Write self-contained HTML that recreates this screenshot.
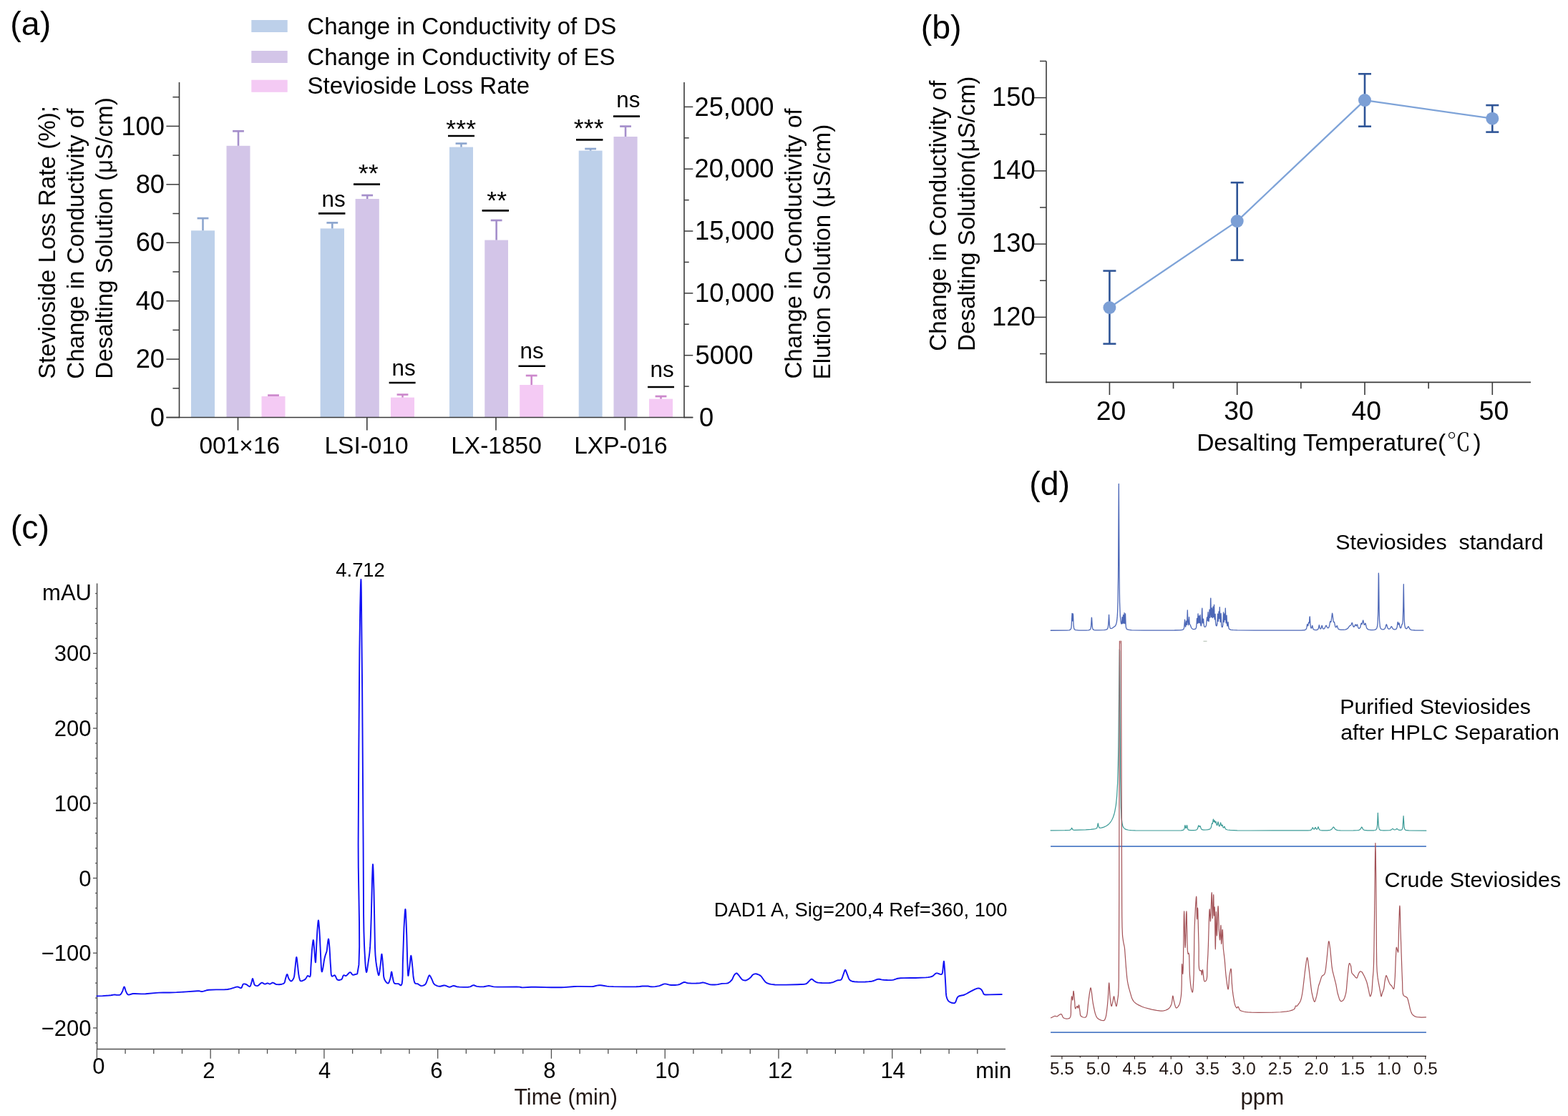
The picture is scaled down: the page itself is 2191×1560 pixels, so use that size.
<!DOCTYPE html>
<html><head><meta charset="utf-8"><title>Figure</title>
<style>
html,body{margin:0;padding:0;background:#fff;}
body{width:2191px;height:1560px;overflow:hidden;}
svg{display:block;}
text{font-family:'Liberation Sans', Arial, sans-serif;}
</style></head>
<body>
<svg width="2191" height="1560" viewBox="0 0 2191 1560">
<rect width="2191" height="1560" fill="#fff"/>
<text x="14.3" y="49.4" font-size="46.5" fill="#000">(a)</text>
<rect x="351.3" y="28" width="50.4" height="17" fill="#bdd0ea"/>
<rect x="351.3" y="71" width="50.4" height="17" fill="#d3c5e8"/>
<rect x="351.3" y="111.7" width="50.4" height="17.1" fill="#f4caf4"/>
<text x="429.31" y="47.8" font-size="33.1" fill="#000">Change in Conductivity of DS</text>
<text x="429.31" y="90.5" font-size="33.1" fill="#000">Change in Conductivity of ES</text>
<text x="429.48" y="130.9" font-size="33.1" fill="#000">Stevioside Loss Rate</text>
<rect x="267" y="322.3" width="33" height="261.2" fill="#bdd0ea"/>
<rect x="316.5" y="203.8" width="33" height="379.7" fill="#d3c5e8"/>
<rect x="365.5" y="554" width="33" height="29.5" fill="#f4caf4"/>
<rect x="447.6" y="319.4" width="33.4" height="264.1" fill="#bdd0ea"/>
<rect x="496.6" y="278" width="33.2" height="305.5" fill="#d3c5e8"/>
<rect x="546" y="555.6" width="33" height="27.9" fill="#f4caf4"/>
<rect x="628" y="205.6" width="33" height="377.9" fill="#bdd0ea"/>
<rect x="677.3" y="335.6" width="32.7" height="247.9" fill="#d3c5e8"/>
<rect x="726.2" y="538" width="33" height="45.5" fill="#f4caf4"/>
<rect x="808.7" y="210.6" width="32.9" height="372.9" fill="#bdd0ea"/>
<rect x="857.5" y="191" width="33.1" height="392.5" fill="#d3c5e8"/>
<rect x="907" y="557.6" width="33" height="25.9" fill="#f4caf4"/>
<line x1="283.5" y1="322.3" x2="283.5" y2="305.1" stroke="#8da6cf" stroke-width="2.6"/>
<line x1="275.6" y1="305.1" x2="291.4" y2="305.1" stroke="#8da6cf" stroke-width="2.7"/>
<line x1="333" y1="203.8" x2="333" y2="183.3" stroke="#a58fcb" stroke-width="2.6"/>
<line x1="325.1" y1="183.3" x2="340.9" y2="183.3" stroke="#a58fcb" stroke-width="2.7"/>
<line x1="374.1" y1="552.6" x2="389.9" y2="552.6" stroke="#cc88cc" stroke-width="2.7"/>
<line x1="464.3" y1="319.4" x2="464.3" y2="311.4" stroke="#8da6cf" stroke-width="2.6"/>
<line x1="456.4" y1="311.4" x2="472.2" y2="311.4" stroke="#8da6cf" stroke-width="2.7"/>
<line x1="513.2" y1="278" x2="513.2" y2="273" stroke="#a58fcb" stroke-width="2.6"/>
<line x1="505.3" y1="273" x2="521.1" y2="273" stroke="#a58fcb" stroke-width="2.7"/>
<line x1="562.5" y1="555.6" x2="562.5" y2="551.6" stroke="#cc88cc" stroke-width="2.6"/>
<line x1="554.6" y1="551.6" x2="570.4" y2="551.6" stroke="#cc88cc" stroke-width="2.7"/>
<line x1="644.5" y1="205.6" x2="644.5" y2="200.6" stroke="#8da6cf" stroke-width="2.6"/>
<line x1="636.6" y1="200.6" x2="652.4" y2="200.6" stroke="#8da6cf" stroke-width="2.7"/>
<line x1="693.65" y1="335.6" x2="693.65" y2="308" stroke="#a58fcb" stroke-width="2.6"/>
<line x1="685.75" y1="308" x2="701.55" y2="308" stroke="#a58fcb" stroke-width="2.7"/>
<line x1="742.7" y1="538" x2="742.7" y2="525" stroke="#cc88cc" stroke-width="2.6"/>
<line x1="734.8" y1="525" x2="750.6" y2="525" stroke="#cc88cc" stroke-width="2.7"/>
<line x1="825.15" y1="210.6" x2="825.15" y2="208" stroke="#8da6cf" stroke-width="2.6"/>
<line x1="817.25" y1="208" x2="833.05" y2="208" stroke="#8da6cf" stroke-width="2.7"/>
<line x1="874.05" y1="191" x2="874.05" y2="176.6" stroke="#a58fcb" stroke-width="2.6"/>
<line x1="866.15" y1="176.6" x2="881.95" y2="176.6" stroke="#a58fcb" stroke-width="2.7"/>
<line x1="923.5" y1="557.6" x2="923.5" y2="554" stroke="#cc88cc" stroke-width="2.6"/>
<line x1="915.6" y1="554" x2="931.4" y2="554" stroke="#cc88cc" stroke-width="2.7"/>
<line x1="250.5" y1="115" x2="250.5" y2="584.3" stroke="#3a3a3a" stroke-width="1.6"/>
<line x1="232.4" y1="583.5" x2="968.3" y2="583.5" stroke="#3a3a3a" stroke-width="1.6"/>
<line x1="956" y1="115" x2="956" y2="584.3" stroke="#3a3a3a" stroke-width="1.6"/>
<line x1="232.4" y1="583.5" x2="250.5" y2="583.5" stroke="#3a3a3a" stroke-width="1.5"/>
<line x1="232.4" y1="502.08" x2="250.5" y2="502.08" stroke="#3a3a3a" stroke-width="1.5"/>
<line x1="232.4" y1="420.66" x2="250.5" y2="420.66" stroke="#3a3a3a" stroke-width="1.5"/>
<line x1="232.4" y1="339.24" x2="250.5" y2="339.24" stroke="#3a3a3a" stroke-width="1.5"/>
<line x1="232.4" y1="257.82" x2="250.5" y2="257.82" stroke="#3a3a3a" stroke-width="1.5"/>
<line x1="232.4" y1="176.4" x2="250.5" y2="176.4" stroke="#3a3a3a" stroke-width="1.5"/>
<line x1="241.4" y1="542.79" x2="250.5" y2="542.79" stroke="#3a3a3a" stroke-width="1.5"/>
<line x1="241.4" y1="461.37" x2="250.5" y2="461.37" stroke="#3a3a3a" stroke-width="1.5"/>
<line x1="241.4" y1="379.95" x2="250.5" y2="379.95" stroke="#3a3a3a" stroke-width="1.5"/>
<line x1="241.4" y1="298.53" x2="250.5" y2="298.53" stroke="#3a3a3a" stroke-width="1.5"/>
<line x1="241.4" y1="217.11" x2="250.5" y2="217.11" stroke="#3a3a3a" stroke-width="1.5"/>
<line x1="241.4" y1="135.69" x2="250.5" y2="135.69" stroke="#3a3a3a" stroke-width="1.5"/>
<line x1="956" y1="583.5" x2="968.3" y2="583.5" stroke="#3a3a3a" stroke-width="1.5"/>
<line x1="956" y1="496.68" x2="968.3" y2="496.68" stroke="#3a3a3a" stroke-width="1.5"/>
<line x1="956" y1="409.86" x2="968.3" y2="409.86" stroke="#3a3a3a" stroke-width="1.5"/>
<line x1="956" y1="323.04" x2="968.3" y2="323.04" stroke="#3a3a3a" stroke-width="1.5"/>
<line x1="956" y1="236.22" x2="968.3" y2="236.22" stroke="#3a3a3a" stroke-width="1.5"/>
<line x1="956" y1="149.4" x2="968.3" y2="149.4" stroke="#3a3a3a" stroke-width="1.5"/>
<line x1="956" y1="540.09" x2="962.7" y2="540.09" stroke="#3a3a3a" stroke-width="1.5"/>
<line x1="956" y1="453.27" x2="962.7" y2="453.27" stroke="#3a3a3a" stroke-width="1.5"/>
<line x1="956" y1="366.45" x2="962.7" y2="366.45" stroke="#3a3a3a" stroke-width="1.5"/>
<line x1="956" y1="279.63" x2="962.7" y2="279.63" stroke="#3a3a3a" stroke-width="1.5"/>
<line x1="956" y1="192.81" x2="962.7" y2="192.81" stroke="#3a3a3a" stroke-width="1.5"/>
<line x1="332.5" y1="583.5" x2="332.5" y2="601.5" stroke="#3a3a3a" stroke-width="1.6"/>
<line x1="512.8" y1="583.5" x2="512.8" y2="601.5" stroke="#3a3a3a" stroke-width="1.6"/>
<line x1="693" y1="583.5" x2="693" y2="601.5" stroke="#3a3a3a" stroke-width="1.6"/>
<line x1="873.4" y1="583.5" x2="873.4" y2="601.5" stroke="#3a3a3a" stroke-width="1.6"/>
<text x="230" y="595.6" font-size="36.3" text-anchor="end" fill="#000">0</text>
<text x="230" y="514.18" font-size="36.3" text-anchor="end" fill="#000">20</text>
<text x="230" y="432.76" font-size="36.3" text-anchor="end" fill="#000">40</text>
<text x="230" y="351.34" font-size="36.3" text-anchor="end" fill="#000">60</text>
<text x="230" y="269.92" font-size="36.3" text-anchor="end" fill="#000">80</text>
<text x="230" y="188.5" font-size="36.3" text-anchor="end" fill="#000">100</text>
<text x="977" y="595.6" font-size="36.3" fill="#000">0</text>
<text x="971.6" y="508.78" font-size="36.3" fill="#000">5000</text>
<text x="971" y="421.96" font-size="36.3" fill="#000">10,000</text>
<text x="971" y="335.14" font-size="36.3" fill="#000">15,000</text>
<text x="970.5" y="248.32" font-size="36.3" fill="#000">20,000</text>
<text x="970.5" y="161.5" font-size="36.3" fill="#000">25,000</text>
<text x="334.8" y="634.2" font-size="33.5" text-anchor="middle" fill="#000">001×16</text>
<text x="512.1" y="634.2" font-size="33.5" text-anchor="middle" fill="#000">LSI-010</text>
<text x="693.5" y="634.2" font-size="33.5" text-anchor="middle" fill="#000">LX-1850</text>
<text x="867.4" y="634.2" font-size="33.5" text-anchor="middle" fill="#000">LXP-016</text>
<line x1="445" y1="298.4" x2="482.4" y2="298.4" stroke="#000" stroke-width="2.6"/>
<text x="466.13" y="288.7" font-size="31.4" text-anchor="middle" fill="#000">ns</text>
<line x1="494" y1="257.6" x2="531" y2="257.6" stroke="#000" stroke-width="2.6"/>
<text x="514.7" y="254.2" font-size="35.7" text-anchor="middle" fill="#000">**</text>
<line x1="543.6" y1="535" x2="580.6" y2="535" stroke="#000" stroke-width="2.6"/>
<text x="564.13" y="524.8" font-size="31.4" text-anchor="middle" fill="#000">ns</text>
<line x1="626" y1="190" x2="663" y2="190" stroke="#000" stroke-width="2.6"/>
<text x="644.2" y="192" font-size="35.7" text-anchor="middle" fill="#000">***</text>
<line x1="673.6" y1="294.4" x2="711" y2="294.4" stroke="#000" stroke-width="2.6"/>
<text x="694.2" y="292.2" font-size="35.7" text-anchor="middle" fill="#000">**</text>
<line x1="724.5" y1="511.8" x2="762" y2="511.8" stroke="#000" stroke-width="2.6"/>
<text x="743.03" y="500.9" font-size="31.4" text-anchor="middle" fill="#000">ns</text>
<line x1="805" y1="195.4" x2="842.4" y2="195.4" stroke="#000" stroke-width="2.6"/>
<text x="822.7" y="191.4" font-size="35.7" text-anchor="middle" fill="#000">***</text>
<line x1="857" y1="162.6" x2="894" y2="162.6" stroke="#000" stroke-width="2.6"/>
<text x="877.83" y="149.7" font-size="31.4" text-anchor="middle" fill="#000">ns</text>
<line x1="905" y1="541" x2="942" y2="541" stroke="#000" stroke-width="2.6"/>
<text x="925.03" y="526.7" font-size="31.4" text-anchor="middle" fill="#000">ns</text>
<text transform="translate(77,529.8) rotate(-90)" font-size="33.2" fill="#000">Stevioside Loss Rate (%);</text>
<text transform="translate(116.9,529.8) rotate(-90)" font-size="33.2" fill="#000">Change in Conductivity of</text>
<text transform="translate(156.8,529.8) rotate(-90)" font-size="33.2" fill="#000">Desalting Solution (μS/cm)</text>
<text transform="translate(1120.4,529.6) rotate(-90)" font-size="33.2" fill="#000">Change in Conductivity of</text>
<text transform="translate(1160.2,530.4) rotate(-90)" font-size="33.2" fill="#000">Elution Solution (μS/cm)</text>
<text x="1286.7" y="53.5" font-size="46.5" fill="#000">(b)</text>
<line x1="1462" y1="85.4" x2="1462" y2="535.2" stroke="#3a3a3a" stroke-width="1.6"/>
<line x1="1461.2" y1="534.4" x2="2139" y2="534.4" stroke="#3a3a3a" stroke-width="1.6"/>
<line x1="1445" y1="136.6" x2="1462" y2="136.6" stroke="#3a3a3a" stroke-width="1.5"/>
<line x1="1445" y1="238.87" x2="1462" y2="238.87" stroke="#3a3a3a" stroke-width="1.5"/>
<line x1="1445" y1="341.14" x2="1462" y2="341.14" stroke="#3a3a3a" stroke-width="1.5"/>
<line x1="1445" y1="443.41" x2="1462" y2="443.41" stroke="#3a3a3a" stroke-width="1.5"/>
<line x1="1453" y1="85.46" x2="1462" y2="85.46" stroke="#3a3a3a" stroke-width="1.5"/>
<line x1="1453" y1="187.74" x2="1462" y2="187.74" stroke="#3a3a3a" stroke-width="1.5"/>
<line x1="1453" y1="290" x2="1462" y2="290" stroke="#3a3a3a" stroke-width="1.5"/>
<line x1="1453" y1="392.27" x2="1462" y2="392.27" stroke="#3a3a3a" stroke-width="1.5"/>
<line x1="1453" y1="494.54" x2="1462" y2="494.54" stroke="#3a3a3a" stroke-width="1.5"/>
<line x1="1550.4" y1="534.4" x2="1550.4" y2="552" stroke="#3a3a3a" stroke-width="1.6"/>
<line x1="1728.7" y1="534.4" x2="1728.7" y2="552" stroke="#3a3a3a" stroke-width="1.6"/>
<line x1="1907" y1="534.4" x2="1907" y2="552" stroke="#3a3a3a" stroke-width="1.6"/>
<line x1="2085.3" y1="534.4" x2="2085.3" y2="552" stroke="#3a3a3a" stroke-width="1.6"/>
<line x1="1639.55" y1="534.4" x2="1639.55" y2="543.3" stroke="#3a3a3a" stroke-width="1.6"/>
<line x1="1817.85" y1="534.4" x2="1817.85" y2="543.3" stroke="#3a3a3a" stroke-width="1.6"/>
<line x1="1996.15" y1="534.4" x2="1996.15" y2="543.3" stroke="#3a3a3a" stroke-width="1.6"/>
<text x="1446.6" y="147.8" font-size="36.3" text-anchor="end" fill="#000">150</text>
<text x="1446.6" y="250.07" font-size="36.3" text-anchor="end" fill="#000">140</text>
<text x="1446.6" y="352.34" font-size="36.3" text-anchor="end" fill="#000">130</text>
<text x="1446.6" y="454.61" font-size="36.3" text-anchor="end" fill="#000">120</text>
<text x="1552.6" y="587.2" font-size="37.3" text-anchor="middle" fill="#000">20</text>
<text x="1730.9" y="587.2" font-size="37.3" text-anchor="middle" fill="#000">30</text>
<text x="1909.2" y="587.2" font-size="37.3" text-anchor="middle" fill="#000">40</text>
<text x="2087.5" y="587.2" font-size="37.3" text-anchor="middle" fill="#000">50</text>
<text x="1672.15" y="629.5" font-size="33.55" fill="#000">Desalting Temperature(<tspan dx="1.2" font-family="'Noto Serif CJK SC', serif">℃</tspan><tspan dx="3.4">)</tspan></text>
<text transform="translate(1321.6,490.7) rotate(-90)" font-size="33.2" fill="#000">Change in Conductivity of</text>
<text transform="translate(1361.6,491) rotate(-90)" font-size="33.2" fill="#000">Desalting Solution(μS/cm)</text>
<polyline points="1550.4,430 1728.7,309.1 1907,140.1 2085.3,165.7" fill="none" stroke="#7ea3d8" stroke-width="2.3" stroke-linejoin="round" stroke-linecap="round"/>
<line x1="1550.4" y1="378.6" x2="1550.4" y2="480.6" stroke="#2f5597" stroke-width="2.6"/>
<line x1="1541.4" y1="378.6" x2="1559.4" y2="378.6" stroke="#2f5597" stroke-width="2.6"/>
<line x1="1541.4" y1="480.6" x2="1559.4" y2="480.6" stroke="#2f5597" stroke-width="2.6"/>
<line x1="1728.7" y1="255.2" x2="1728.7" y2="363.6" stroke="#2f5597" stroke-width="2.6"/>
<line x1="1719.7" y1="255.2" x2="1737.7" y2="255.2" stroke="#2f5597" stroke-width="2.6"/>
<line x1="1719.7" y1="363.6" x2="1737.7" y2="363.6" stroke="#2f5597" stroke-width="2.6"/>
<line x1="1907" y1="103.3" x2="1907" y2="176.7" stroke="#2f5597" stroke-width="2.6"/>
<line x1="1898" y1="103.3" x2="1916" y2="103.3" stroke="#2f5597" stroke-width="2.6"/>
<line x1="1898" y1="176.7" x2="1916" y2="176.7" stroke="#2f5597" stroke-width="2.6"/>
<line x1="2085.3" y1="147.1" x2="2085.3" y2="184.6" stroke="#2f5597" stroke-width="2.6"/>
<line x1="2076.3" y1="147.1" x2="2094.3" y2="147.1" stroke="#2f5597" stroke-width="2.6"/>
<line x1="2076.3" y1="184.6" x2="2094.3" y2="184.6" stroke="#2f5597" stroke-width="2.6"/>
<circle cx="1550.4" cy="430" r="9" fill="#7c9fd5"/>
<circle cx="1728.7" cy="309.1" r="9" fill="#7c9fd5"/>
<circle cx="1907" cy="140.1" r="9" fill="#7c9fd5"/>
<circle cx="2085.3" cy="165.7" r="9" fill="#7c9fd5"/>
<text x="14.8" y="752.6" font-size="46.5" fill="#000">(c)</text>
<line x1="135.6" y1="815.4" x2="135.6" y2="1467.2" stroke="#505050" stroke-width="1.5"/>
<line x1="134.9" y1="1466.4" x2="1405" y2="1466.4" stroke="#505050" stroke-width="1.5"/>
<line x1="133.1" y1="1457.88" x2="135.6" y2="1457.88" stroke="#505050" stroke-width="1.3"/>
<line x1="130" y1="1436.94" x2="135.6" y2="1436.94" stroke="#505050" stroke-width="1.3"/>
<line x1="133.1" y1="1416" x2="135.6" y2="1416" stroke="#505050" stroke-width="1.3"/>
<line x1="133.1" y1="1395.05" x2="135.6" y2="1395.05" stroke="#505050" stroke-width="1.3"/>
<line x1="133.1" y1="1374.11" x2="135.6" y2="1374.11" stroke="#505050" stroke-width="1.3"/>
<line x1="133.1" y1="1353.16" x2="135.6" y2="1353.16" stroke="#505050" stroke-width="1.3"/>
<line x1="130" y1="1332.22" x2="135.6" y2="1332.22" stroke="#505050" stroke-width="1.3"/>
<line x1="133.1" y1="1311.28" x2="135.6" y2="1311.28" stroke="#505050" stroke-width="1.3"/>
<line x1="133.1" y1="1290.33" x2="135.6" y2="1290.33" stroke="#505050" stroke-width="1.3"/>
<line x1="133.1" y1="1269.39" x2="135.6" y2="1269.39" stroke="#505050" stroke-width="1.3"/>
<line x1="133.1" y1="1248.44" x2="135.6" y2="1248.44" stroke="#505050" stroke-width="1.3"/>
<line x1="130" y1="1227.5" x2="135.6" y2="1227.5" stroke="#505050" stroke-width="1.3"/>
<line x1="133.1" y1="1206.56" x2="135.6" y2="1206.56" stroke="#505050" stroke-width="1.3"/>
<line x1="133.1" y1="1185.61" x2="135.6" y2="1185.61" stroke="#505050" stroke-width="1.3"/>
<line x1="133.1" y1="1164.67" x2="135.6" y2="1164.67" stroke="#505050" stroke-width="1.3"/>
<line x1="133.1" y1="1143.72" x2="135.6" y2="1143.72" stroke="#505050" stroke-width="1.3"/>
<line x1="130" y1="1122.78" x2="135.6" y2="1122.78" stroke="#505050" stroke-width="1.3"/>
<line x1="133.1" y1="1101.84" x2="135.6" y2="1101.84" stroke="#505050" stroke-width="1.3"/>
<line x1="133.1" y1="1080.89" x2="135.6" y2="1080.89" stroke="#505050" stroke-width="1.3"/>
<line x1="133.1" y1="1059.95" x2="135.6" y2="1059.95" stroke="#505050" stroke-width="1.3"/>
<line x1="133.1" y1="1039" x2="135.6" y2="1039" stroke="#505050" stroke-width="1.3"/>
<line x1="130" y1="1018.06" x2="135.6" y2="1018.06" stroke="#505050" stroke-width="1.3"/>
<line x1="133.1" y1="997.12" x2="135.6" y2="997.12" stroke="#505050" stroke-width="1.3"/>
<line x1="133.1" y1="976.17" x2="135.6" y2="976.17" stroke="#505050" stroke-width="1.3"/>
<line x1="133.1" y1="955.23" x2="135.6" y2="955.23" stroke="#505050" stroke-width="1.3"/>
<line x1="133.1" y1="934.28" x2="135.6" y2="934.28" stroke="#505050" stroke-width="1.3"/>
<line x1="130" y1="913.34" x2="135.6" y2="913.34" stroke="#505050" stroke-width="1.3"/>
<line x1="133.1" y1="892.4" x2="135.6" y2="892.4" stroke="#505050" stroke-width="1.3"/>
<line x1="133.1" y1="871.45" x2="135.6" y2="871.45" stroke="#505050" stroke-width="1.3"/>
<line x1="133.1" y1="850.51" x2="135.6" y2="850.51" stroke="#505050" stroke-width="1.3"/>
<line x1="133.1" y1="829.56" x2="135.6" y2="829.56" stroke="#505050" stroke-width="1.3"/>
<line x1="135.4" y1="1466.4" x2="135.4" y2="1479.8" stroke="#505050" stroke-width="1.3"/>
<line x1="175.09" y1="1466.4" x2="175.09" y2="1472.9" stroke="#505050" stroke-width="1.3"/>
<line x1="214.78" y1="1466.4" x2="214.78" y2="1472.9" stroke="#505050" stroke-width="1.3"/>
<line x1="254.47" y1="1466.4" x2="254.47" y2="1472.9" stroke="#505050" stroke-width="1.3"/>
<line x1="294.16" y1="1466.4" x2="294.16" y2="1479.8" stroke="#505050" stroke-width="1.3"/>
<line x1="333.85" y1="1466.4" x2="333.85" y2="1472.9" stroke="#505050" stroke-width="1.3"/>
<line x1="373.54" y1="1466.4" x2="373.54" y2="1472.9" stroke="#505050" stroke-width="1.3"/>
<line x1="413.23" y1="1466.4" x2="413.23" y2="1472.9" stroke="#505050" stroke-width="1.3"/>
<line x1="452.92" y1="1466.4" x2="452.92" y2="1479.8" stroke="#505050" stroke-width="1.3"/>
<line x1="492.61" y1="1466.4" x2="492.61" y2="1472.9" stroke="#505050" stroke-width="1.3"/>
<line x1="532.3" y1="1466.4" x2="532.3" y2="1472.9" stroke="#505050" stroke-width="1.3"/>
<line x1="571.99" y1="1466.4" x2="571.99" y2="1472.9" stroke="#505050" stroke-width="1.3"/>
<line x1="611.68" y1="1466.4" x2="611.68" y2="1479.8" stroke="#505050" stroke-width="1.3"/>
<line x1="651.37" y1="1466.4" x2="651.37" y2="1472.9" stroke="#505050" stroke-width="1.3"/>
<line x1="691.06" y1="1466.4" x2="691.06" y2="1472.9" stroke="#505050" stroke-width="1.3"/>
<line x1="730.75" y1="1466.4" x2="730.75" y2="1472.9" stroke="#505050" stroke-width="1.3"/>
<line x1="770.44" y1="1466.4" x2="770.44" y2="1479.8" stroke="#505050" stroke-width="1.3"/>
<line x1="810.13" y1="1466.4" x2="810.13" y2="1472.9" stroke="#505050" stroke-width="1.3"/>
<line x1="849.82" y1="1466.4" x2="849.82" y2="1472.9" stroke="#505050" stroke-width="1.3"/>
<line x1="889.51" y1="1466.4" x2="889.51" y2="1472.9" stroke="#505050" stroke-width="1.3"/>
<line x1="929.2" y1="1466.4" x2="929.2" y2="1479.8" stroke="#505050" stroke-width="1.3"/>
<line x1="968.89" y1="1466.4" x2="968.89" y2="1472.9" stroke="#505050" stroke-width="1.3"/>
<line x1="1008.58" y1="1466.4" x2="1008.58" y2="1472.9" stroke="#505050" stroke-width="1.3"/>
<line x1="1048.27" y1="1466.4" x2="1048.27" y2="1472.9" stroke="#505050" stroke-width="1.3"/>
<line x1="1087.96" y1="1466.4" x2="1087.96" y2="1479.8" stroke="#505050" stroke-width="1.3"/>
<line x1="1127.65" y1="1466.4" x2="1127.65" y2="1472.9" stroke="#505050" stroke-width="1.3"/>
<line x1="1167.34" y1="1466.4" x2="1167.34" y2="1472.9" stroke="#505050" stroke-width="1.3"/>
<line x1="1207.03" y1="1466.4" x2="1207.03" y2="1472.9" stroke="#505050" stroke-width="1.3"/>
<line x1="1246.72" y1="1466.4" x2="1246.72" y2="1479.8" stroke="#505050" stroke-width="1.3"/>
<line x1="1286.41" y1="1466.4" x2="1286.41" y2="1472.9" stroke="#505050" stroke-width="1.3"/>
<line x1="1326.1" y1="1466.4" x2="1326.1" y2="1472.9" stroke="#505050" stroke-width="1.3"/>
<line x1="1365.79" y1="1466.4" x2="1365.79" y2="1472.9" stroke="#505050" stroke-width="1.3"/>
<text x="127.4" y="924.34" font-size="31" text-anchor="end" fill="#000">300</text>
<text x="127.4" y="1029.06" font-size="31" text-anchor="end" fill="#000">200</text>
<text x="127.4" y="1133.78" font-size="31" text-anchor="end" fill="#000">100</text>
<text x="127.4" y="1238.5" font-size="31" text-anchor="end" fill="#000">0</text>
<text x="127.4" y="1343.22" font-size="31" text-anchor="end" fill="#000">−100</text>
<text x="127.4" y="1447.94" font-size="31" text-anchor="end" fill="#000">−200</text>
<text x="127.99" y="838.7" font-size="31" text-anchor="end" fill="#000">mAU</text>
<text x="137.9" y="1501.4" font-size="31" text-anchor="middle" fill="#000">0</text>
<text x="291.86" y="1507" font-size="31" text-anchor="middle" fill="#000">2</text>
<text x="453.72" y="1507" font-size="31" text-anchor="middle" fill="#000">4</text>
<text x="609.78" y="1507" font-size="31" text-anchor="middle" fill="#000">6</text>
<text x="767.94" y="1507" font-size="31" text-anchor="middle" fill="#000">8</text>
<text x="932.4" y="1507" font-size="31" text-anchor="middle" fill="#000">10</text>
<text x="1090.26" y="1507" font-size="31" text-anchor="middle" fill="#000">12</text>
<text x="1247.62" y="1507" font-size="31" text-anchor="middle" fill="#000">14</text>
<text x="1363.28" y="1506.6" font-size="31" fill="#000">min</text>
<text x="718.39" y="1543.7" font-size="30.5" fill="#231815">Time (min)</text>
<text x="469.31" y="806.3" font-size="27.4" fill="#000">4.712</text>
<text x="997.81" y="1281.2" font-size="27.4" fill="#000">DAD1 A, Sig=200,4 Ref=360, 100</text>
<polyline points="135.4,1392.4 143.39,1392.09 151.92,1391.51 155,1391.2 160,1390.4 162.46,1390.76 164.65,1390.88 166.44,1390.85 167.27,1390.7 168,1390.4 168.63,1389.92 169.68,1388.53 171.49,1384.84 172.78,1380.68 173.19,1379.75 173.6,1379.4 174,1379.76 174.37,1380.69 175.54,1384.84 177.27,1388.6 178.33,1389.98 179,1390.4 179.92,1390.55 180.96,1390.4 184.65,1389.23 186,1389 188.01,1388.93 197.43,1389.4 200,1389.4 203.41,1389.23 218.4,1387.83 222,1387.6 228.1,1387.46 236.97,1387.46 246.63,1387.14 260,1386.4 275.76,1385.18 278.82,1385.3 280.68,1385.84 282,1386 284.4,1385.56 288.53,1384.3 291.83,1383.78 302,1383.4 313,1383.33 318,1383 322.25,1382.08 327.06,1380.69 330.08,1379.67 332,1379.4 332.89,1379.57 335.51,1380.83 336.3,1381.06 337,1381 337.62,1380.45 338.11,1379.51 339.4,1376.21 340,1375.6 340.58,1375.4 341.9,1375.42 344,1376 344.85,1376.44 347.52,1378.52 348.31,1378.96 349,1379 349.59,1378.54 350.08,1377.68 350.48,1376.56 351.79,1372.03 352.53,1368.91 352.76,1368.25 353,1368 353.25,1368.26 353.49,1368.95 355.3,1375.91 356,1377 356.52,1377.38 357.82,1377.91 359.28,1378.08 360,1378 360.97,1377.56 364.04,1374.73 365.05,1373.95 366,1373.6 366.7,1373.7 369.33,1375.4 370,1375.6 370.67,1375.55 373.37,1374.48 374,1374.4 374.52,1374.51 376.48,1375.53 377,1375.6 377.63,1375.43 380.3,1373.75 381,1373.6 381.79,1373.75 382.6,1374.13 385.12,1375.68 386,1376 386.96,1376.17 390.02,1376.23 393.82,1375.69 395.58,1375.2 396.35,1374.82 397,1374.3 397.55,1373.52 397.94,1372.54 398.7,1369.1 400.08,1364.18 400.83,1362.21 401.2,1361.9 401.56,1362.23 401.9,1363.11 403.02,1366.97 403.5,1368 404.51,1369.55 405.65,1370.92 406.23,1371.35 406.8,1371.5 407.4,1371.33 408.02,1370.89 408.65,1370.22 409.81,1368.47 410.3,1367.5 410.95,1365.54 411.4,1363.11 413.7,1340.49 414,1338.61 414.3,1337.9 414.61,1338.62 414.93,1340.51 417.25,1361.85 418,1366 418.83,1369.28 419.18,1370.17 419.62,1370.87 420.2,1371.3 421.05,1371.42 422.1,1371.23 424.45,1370.23 426.5,1368.9 427.22,1368.14 429.41,1364.39 430,1364 430.48,1364.05 432.49,1365.42 432.9,1365.4 433.55,1364.34 433.93,1362.28 434.12,1359.52 434.32,1353.08 435.87,1328.65 436.99,1317.84 437.54,1314.5 437.8,1314 438.09,1314.82 438.36,1316.98 440.43,1342.48 440.67,1344.53 440.9,1345.3 441.17,1343.99 441.41,1340.54 442.3,1320 443.35,1301.24 444.23,1290.58 444.68,1287.04 444.9,1286.5 445.14,1287.13 445.38,1288.8 446.3,1300 446.83,1309.15 448.64,1347.76 448.96,1353.13 449.34,1356.93 449.8,1358.4 450.06,1358.11 450.35,1357.29 451.5,1352 452.72,1343.58 453.52,1339.56 454.7,1335.1 456.5,1330 457,1326.87 457.5,1321.62 458.34,1315.24 458.79,1312.87 459,1312.5 459.27,1313.09 459.53,1314.66 460.5,1325 461.69,1346.12 462.2,1352.94 462.47,1359.02 462.72,1361.64 463.17,1363.62 463.9,1364.7 464.43,1364.77 467.09,1363.31 467.7,1363.3 468.42,1363.9 469.04,1365.01 470.22,1367.79 470.9,1368.98 471.7,1369.7 472.55,1369.96 473.53,1370.03 474.56,1369.94 476.51,1369.36 477.3,1368.9 477.93,1368.16 478.39,1367.12 479.13,1364.8 479.55,1363.86 480.1,1363.3 480.61,1363.21 482.98,1364.03 483.6,1364 484.53,1363.47 487.49,1360.24 488.43,1359.41 489.3,1359.1 489.93,1359.35 490.5,1359.93 492.17,1362.19 492.8,1362.6 493.46,1362.71 494.93,1362.52 497,1361.9 498.23,1361.73 498.95,1361.4 499.3,1361 501.43,1348.65 502.19,1323.2 502.03,1289.13 500.78,1213.05 500.6,1180 501.32,1048.29 502.38,908.05 503.22,849.67 503.96,818.39 504.2,812.27 504.4,810 504.57,812.27 504.84,827.34 506.16,965.11 507.6,1180 508.09,1280.05 508.42,1301.77 509,1320 509.41,1328.82 510.38,1345.93 510.93,1352.73 511.5,1357.37 512.1,1359.1 512.48,1358.41 512.88,1356.55 515.73,1337.03 516.47,1331.25 517.21,1322.65 517.81,1310.49 518.79,1280.45 520,1230 520.66,1211.84 521,1208.2 521.2,1209.43 521.61,1217.52 522.46,1244.42 524,1324.74 524.5,1335.1 525.35,1344.16 526.07,1349.46 527.82,1359.22 528.77,1362.76 529.2,1363.3 529.63,1362.63 530.42,1358.39 531.86,1347.01 532.8,1336.78 533.1,1334.55 533.4,1333.7 533.71,1334.52 534.3,1339.73 535.44,1353.23 535.99,1363.53 536.44,1366.53 537.2,1369 538.72,1371.69 539.64,1372.88 540.56,1373.83 541.44,1374.44 542.2,1374.6 542.84,1374.21 543.42,1373.35 543.95,1372.15 545.3,1368 545.71,1366.3 546.56,1360.26 546.82,1358.91 547.1,1358.4 547.4,1358.91 547.69,1360.25 548.63,1366.29 549.85,1371.77 550.2,1372.9 550.67,1373.87 551.3,1374.6 552.07,1374.98 553.01,1375.13 556.11,1375.13 557,1375.3 557.67,1375.65 559.48,1377.18 560.01,1377.45 560.5,1377.4 561.63,1375.04 562.27,1370.01 562.57,1363.15 562.78,1347.31 564.46,1297.05 565.59,1277.49 566.14,1271.77 566.4,1270.9 566.7,1272.29 566.98,1276 567.51,1287.57 568.29,1307.91 569.24,1343.29 569.87,1359.28 570.18,1363.38 570.4,1364 570.68,1363.3 571.02,1361.42 572.82,1347.31 573.7,1338.44 574,1336.53 574.3,1335.8 574.61,1336.5 575.26,1341.02 576.5,1352.98 577.58,1365.5 578.56,1370.7 579.2,1373.01 579.64,1373.92 580.2,1374.6 580.69,1374.9 583.7,1375.3 584.49,1375.7 586.97,1377.44 587.83,1377.89 588.7,1378.1 590.64,1377.9 592.63,1377.15 594.3,1376 594.94,1375.23 595.84,1373.26 598.96,1364.59 599.47,1363.67 600,1363.3 600.48,1363.5 601.47,1364.95 603.61,1369.26 605.37,1373.63 606.11,1374.94 607,1376 607.99,1376.77 610.34,1377.95 611.6,1378.35 614.1,1378.8 615.26,1378.76 619.94,1377.47 621.1,1377.4 622.3,1377.63 627.07,1379.63 628.2,1379.8 629.16,1379.67 632.79,1378.16 633.7,1378 635.41,1378.27 638.1,1379.19 641.64,1379.64 647.9,1379.9 654.12,1379.72 656.5,1379.4 657.55,1379.08 660.02,1377.7 660.79,1377.35 661.6,1377.2 662.42,1377.28 663.21,1377.53 665.69,1378.64 666.6,1378.9 670.57,1379.38 674.8,1379.4 676.18,1379.24 681.66,1378.08 683,1378 684.18,1378.09 688.76,1379.18 690.3,1379.4 695.1,1379.63 701.54,1379.65 721.79,1379.44 725.9,1379.6 728.81,1380.22 731.09,1380.35 742.3,1379.8 748.05,1379.81 770.41,1380.28 784.3,1380.3 788.36,1380.13 802.63,1379.06 806.2,1378.9 809.96,1378.87 825,1379.17 828.1,1379 829.85,1378.75 834.25,1377.64 837.3,1377.2 839.32,1377.25 841.35,1377.5 848.16,1378.64 850.9,1378.9 857.2,1379.16 873.78,1379.36 889.08,1379.19 893.8,1379 897.5,1378.5 901.55,1378.36 905.7,1378.5 909.43,1379.32 911.87,1379.39 915.61,1379.08 921.2,1378.1 922.5,1377.69 926.05,1376.06 927.24,1375.64 928.5,1375.4 929.95,1375.42 931.44,1375.66 936.1,1376.8 937.7,1377 943.25,1377.02 946.92,1376.64 948.6,1376.3 949.93,1375.83 953.6,1373.8 954.75,1373.27 955.9,1373 956.81,1373.01 957.66,1373.19 960.31,1374.1 961.4,1374.3 966.59,1374.59 972.76,1374.57 977.8,1374.3 978.72,1374.16 980.85,1373.55 982.4,1373.4 983.85,1373.62 990.7,1375.93 992.4,1376.3 995.52,1376.56 998.62,1376.52 1002.86,1376.14 1008.9,1374.9 1014.66,1374.66 1016.04,1374.48 1017.3,1374.1 1018.37,1373.57 1020.33,1372.15 1022.8,1369.5 1023.45,1368.49 1025.42,1363.9 1026,1363 1027.58,1361.24 1028.68,1360.5 1029.2,1360.4 1029.67,1360.53 1030.58,1361.3 1032.81,1363.97 1035.49,1367.66 1036.44,1368.72 1037.4,1369.5 1038.12,1369.89 1039.59,1370.42 1041.12,1370.57 1041.9,1370.5 1042.95,1370.22 1044.06,1369.73 1046.31,1368.33 1048.3,1366.8 1049.01,1366.1 1051.36,1363.05 1052,1362.5 1053.77,1361.65 1055,1361.36 1056.17,1361.3 1057.3,1361.47 1059,1362 1061.01,1362.87 1062.3,1363.65 1063.47,1364.64 1063.99,1365.25 1067.9,1370.72 1069.35,1372.48 1070.2,1373.2 1072.18,1374.38 1074.48,1375.23 1077.5,1375.9 1082.87,1376.44 1090.19,1376.66 1098.48,1376.64 1114.1,1376.18 1123.72,1375.71 1125.83,1375.36 1126.8,1375 1128.19,1374 1129.9,1372.09 1132.9,1369.14 1133.5,1368.76 1134.1,1368.6 1134.66,1368.71 1135.22,1369.04 1137.5,1371 1139.24,1372.19 1140.57,1372.91 1141.4,1373.2 1143.33,1373.61 1148.4,1374.06 1156,1374.1 1158.68,1373.97 1161.09,1373.69 1163.4,1373.2 1164.5,1372.83 1169.7,1370.5 1170.66,1370.31 1173.56,1370.13 1174.43,1369.92 1175.2,1369.5 1175.97,1368.64 1176.59,1367.48 1180.24,1356.93 1180.67,1356.11 1181.1,1355.8 1181.54,1356.11 1181.98,1356.92 1185.84,1367.36 1186.43,1368.54 1187.1,1369.5 1188.58,1370.84 1190.7,1371.7 1193.93,1372.24 1198.45,1372.54 1203.7,1372.61 1209.11,1372.48 1214.1,1372.17 1218.1,1371.7 1219.97,1371.26 1221.64,1370.66 1225.96,1368.86 1227.3,1368.6 1229.1,1368.71 1231.66,1369.35 1234.78,1369.69 1239.88,1370.03 1245.09,1370.08 1247.3,1369.9 1248.61,1369.64 1253.12,1368.02 1254.6,1367.7 1258.4,1367.31 1263.12,1367.12 1279.1,1366.99 1293.86,1366.35 1296.92,1366.1 1299.7,1365.68 1302.1,1365 1303.41,1364.32 1304.52,1363.44 1306.45,1361.57 1307.42,1360.84 1308.5,1360.4 1309.71,1360.42 1311.05,1360.81 1313.71,1361.87 1314.87,1362.12 1315.8,1361.9 1316.55,1360.97 1317.02,1359.5 1318.57,1345.13 1318.9,1343.6 1319.23,1345.16 1320.11,1355.98 1321.5,1380 1321.8,1387.14 1322.2,1391.42 1322.6,1393.3 1323.36,1395.79 1324.35,1397.98 1325,1398.9 1325.8,1399.7 1326.93,1400.48 1328.31,1401.2 1329.83,1401.78 1331.36,1402.16 1332.8,1402.25 1334,1402 1334.97,1401.15 1335.68,1399.74 1336.88,1396.19 1337.61,1394.54 1338.6,1393.3 1339.86,1392.52 1341.31,1392.01 1346.15,1391.01 1347.7,1390.5 1350.77,1388.99 1355.34,1386.4 1362.16,1382.95 1365.5,1381.63 1366.9,1381.4 1367.63,1381.43 1368.94,1381.75 1370.08,1382.34 1371.08,1383.13 1371.91,1384.19 1373,1386 1374.23,1388.91 1374.61,1389.53 1375.1,1390 1375.74,1390.29 1377.27,1390.47 1383.07,1390.4 1399.8,1390" fill="none" stroke="#1010f5" stroke-width="1.9" stroke-linejoin="round" stroke-linecap="round"/>
<text x="1438.2" y="692.2" font-size="46.5" fill="#000">(d)</text>
<polyline points="1468.3,881.26 1490.8,881.1 1494.05,880.81 1495.55,880.23 1496.05,879.74 1496.55,878.77 1497.05,876.43 1498.05,857.31 1498.55,867.6 1498.8,868.03 1499.3,857.92 1499.55,859.72 1500.05,873.09 1500.55,877.65 1501.3,879.66 1502.05,880.34 1503.05,880.72 1507.3,881.09 1517.8,881.08 1521.3,880.84 1523.05,880.19 1523.55,879.65 1524.05,878.52 1524.55,875.69 1525.3,863.23 1525.55,863.92 1526.3,876.11 1526.8,878.66 1527.3,879.7 1527.8,880.2 1528.8,880.64 1530.05,880.85 1535.55,880.96 1542.8,880.67 1544.8,880.42 1546.3,879.98 1547.05,879.5 1547.55,878.91 1548.3,876.71 1548.8,872.26 1549.55,859.32 1550.3,873.24 1550.8,876.67 1551.3,877.92 1551.8,878.41 1552.55,878.58 1554.3,878 1558.05,875.27 1559.3,873.41 1560.3,869.84 1561.05,863.92 1561.55,856.25 1562.05,841.35 1562.55,806.17 1563.3,676.31 1564.05,806.33 1564.55,841.6 1565.3,861.01 1566.05,868.7 1566.55,871.21 1567.05,872.19 1567.3,871.78 1567.55,869.96 1568.05,862.62 1568.55,871.11 1568.8,871.58 1569.55,859.76 1570.05,870.67 1570.3,871.28 1571.05,856.67 1571.55,870.44 1571.8,871.63 1572.05,869.35 1572.55,858.02 1573.05,873.17 1573.3,876.05 1573.55,877.49 1574.05,878.81 1574.55,879.41 1575.3,879.88 1577.55,880.45 1581.3,880.79 1597.8,881.11 1641.3,881.02 1649.05,880.8 1652.55,880.33 1653.8,879.56 1654.55,877.74 1655.55,866.03 1656.3,875.6 1656.55,876.15 1656.8,875.69 1657.55,868.21 1658.05,873.31 1658.3,873.36 1658.8,867.11 1659.3,852.88 1659.8,866.92 1660.3,873.29 1660.55,873.79 1660.8,873.04 1661.55,862.7 1662.05,870.79 1662.3,872.3 1663.3,873.83 1664.55,877.22 1665.3,878.42 1666.55,879.32 1668.05,879.63 1669.8,879.44 1670.8,878.83 1671.55,877.15 1672.05,872.69 1672.55,864.34 1673.05,871.47 1673.3,871.45 1674.05,857.78 1674.55,869.41 1674.8,870.75 1675.55,860.99 1676.05,870.2 1676.3,870.89 1677.05,859.7 1677.8,873.73 1678.05,874.71 1678.3,874.86 1678.55,874.33 1679.05,869.81 1679.55,852.28 1679.8,850.24 1680.3,867.8 1680.55,870.62 1680.8,871.01 1681.55,865.12 1682.05,871.9 1682.55,875.18 1683.05,876.18 1683.55,876.45 1684.05,876.36 1684.55,876 1685.05,875.24 1685.55,873.58 1686.55,862.93 1687.05,867.57 1687.3,867.69 1688.05,855.74 1688.55,866.66 1688.8,868.59 1689.05,868.72 1689.3,867.29 1690.05,852.04 1690.55,862.79 1690.8,863.45 1691.3,852.68 1691.55,838.59 1691.8,836.08 1692.3,859.09 1692.55,862.47 1692.8,862.08 1693.3,849.95 1693.55,851.49 1694.05,863.41 1694.3,863.64 1695.05,847.83 1695.55,861.64 1695.8,862.67 1696.55,845.36 1697.05,862.92 1697.3,865.8 1697.55,864.98 1698.05,858.47 1698.55,869.65 1699.05,873.62 1699.55,874.77 1700.05,874.85 1700.3,874.49 1700.8,871.98 1701.55,858.12 1702.05,867.94 1702.3,868.52 1702.55,865.69 1703.05,854.88 1703.55,864.63 1703.8,863.06 1704.3,848.73 1705.05,869.02 1705.3,869.56 1705.55,867.01 1706.05,857.48 1706.8,873.86 1707.3,876.16 1707.55,876.54 1707.8,876.62 1708.05,876.45 1708.55,874.88 1708.8,872.76 1709.55,855.88 1710.05,868.33 1710.3,869.65 1710.55,867.46 1711.05,857.93 1711.55,866.44 1711.8,864.59 1712.3,850.04 1713.05,870.35 1713.3,871.02 1713.55,868.81 1714.05,860.2 1714.55,871.92 1714.8,874.34 1715.05,875.14 1715.3,874.79 1716.05,869.45 1716.55,875.19 1717.05,878.09 1717.55,879.16 1718.05,879.66 1719.8,880.31 1723.05,880.66 1728.8,880.89 1752.55,881.15 1809.8,881.17 1818.55,881.04 1822.55,880.75 1824.05,880.33 1825.05,879.52 1825.8,877.68 1826.55,873.1 1826.8,872.64 1827.55,874.9 1827.8,874.52 1828.05,873.32 1828.55,870.09 1828.8,870.13 1829.05,870.92 1829.3,870.97 1829.55,869.47 1830.05,862.17 1830.3,861.95 1831.05,873.96 1831.55,877 1832.05,878.04 1832.3,878.16 1832.55,878.03 1832.8,877.61 1833.55,874.55 1833.8,874.49 1834.55,878.13 1835.05,879.36 1835.55,879.93 1836.55,880.39 1837.8,880.57 1839.55,880.53 1840.8,880.25 1841.8,879.47 1842.3,878.39 1843.3,873.58 1844.05,877.17 1844.3,878.05 1844.8,878.9 1845.05,879.04 1845.55,878.94 1846.05,878.27 1847.05,874.49 1847.3,874.37 1848.3,878.06 1848.8,878.8 1849.55,879.07 1850.3,878.78 1851.05,877.97 1852.8,874.28 1853.05,874.27 1853.3,874.57 1854.3,876.7 1855.05,877.62 1855.55,877.82 1856.05,877.72 1856.8,876.94 1857.55,874.86 1858.55,869.27 1858.8,868.66 1859.55,869.53 1859.8,869.3 1860.05,868.52 1861.55,857.22 1861.8,857.69 1862.05,859.46 1863.05,868.12 1863.55,869.61 1864.3,869.38 1864.55,870.01 1865.8,875.83 1866.3,876.71 1866.8,876.88 1867.3,876.31 1868.05,874.68 1868.3,874.74 1869.55,878.33 1870.3,879.32 1871.3,879.91 1873.55,880.35 1877.05,880.4 1879.8,880.08 1881.8,879.42 1883.55,878.06 1885.8,874.93 1886.3,874.56 1887.3,874.28 1887.8,873.82 1889.05,870.68 1889.3,870.53 1889.55,870.93 1890.55,874.63 1891.3,876.15 1891.8,876.39 1892.3,876.06 1893.8,873.01 1894.05,873.14 1895.05,874.79 1895.3,874.77 1895.55,874.46 1896.3,872.88 1896.55,873.13 1897.8,877.35 1898.55,878.26 1899.05,878.42 1899.55,878.33 1900.3,877.64 1900.8,876.58 1902.05,871.3 1902.3,871.19 1903.05,872.46 1903.3,872.31 1904.55,867.12 1904.8,867.05 1905.8,871.93 1906.3,873.34 1906.55,873.5 1906.8,873.32 1907.8,871.23 1908.05,871.52 1909.3,876.69 1910.05,878.39 1910.8,879.27 1912.3,880.07 1914.55,880.48 1918.05,880.58 1920.8,880.29 1922.55,879.6 1923.3,878.87 1923.8,878.02 1924.55,875.33 1925.05,870.96 1925.55,859.63 1925.8,846.95 1926.3,801.15 1926.55,804.81 1927.05,850.09 1927.55,867.74 1928.3,875.54 1928.8,877.44 1929.55,878.82 1930.55,879.6 1931.8,879.93 1933.3,879.85 1934.55,879.25 1935.3,878.36 1935.8,877.32 1936.8,873.78 1937.3,872.73 1937.8,873.74 1938.8,877.21 1939.3,878.2 1940.05,878.98 1941.05,879.26 1942.05,878.9 1942.8,878.06 1943.8,876.16 1944.3,875.69 1944.8,876.21 1946.05,878.6 1946.8,879.37 1948.3,879.95 1950.05,879.81 1951.05,879.15 1951.8,877.78 1952.3,875.66 1953.05,869.94 1953.3,869.47 1954.05,872.94 1954.3,873.09 1955.05,870.88 1956.05,876.07 1956.55,877.45 1956.8,877.76 1957.3,877.85 1957.8,877.29 1959.05,872.55 1959.55,872.41 1959.8,871.78 1960.3,866.6 1960.8,848.12 1961.3,816.67 1961.8,848.57 1962.3,867.7 1962.8,874.08 1963.55,877.4 1964.05,878.27 1964.55,878.69 1965.55,878.73 1966.3,878.11 1967.8,875.77 1968.3,876.14 1969.3,878.23 1970.05,879.31 1971.05,880.08 1972.3,880.53 1977.05,881.02 1988.8,881.2" fill="none" stroke="#4c67b7" stroke-width="1.3" stroke-linejoin="round" stroke-linecap="round"/>
<polyline points="1468.1,1160.81 1488.1,1160.62 1494.35,1160.37 1495.6,1160.09 1496.35,1159.59 1497.6,1157.3 1498.6,1159.23 1499.1,1159.76 1499.85,1160.1 1501.35,1160.29 1517.1,1159.91 1524.1,1159.47 1528.85,1158.96 1531.6,1158.28 1532.35,1157.8 1532.85,1157.16 1533.35,1155.86 1534.1,1151.45 1534.35,1150.88 1535.1,1154.96 1535.85,1156.8 1536.35,1157.19 1537.1,1157.37 1539.1,1157.17 1541.85,1156.4 1544.6,1155.25 1547.1,1153.79 1549.1,1152.2 1550.85,1150.38 1552.6,1147.99 1554.1,1145.31 1555.35,1142.45 1556.6,1138.79 1557.6,1135.04 1559.35,1125.33 1560.6,1113.11 1561.6,1095.11 1562.35,1070.12 1562.85,1042.57 1564.35,907.87 1564.6,910.07 1565.6,1085.68 1566.35,1128.12 1567.1,1143.25 1568.1,1151.46 1568.85,1154.41 1569.6,1156.19 1570.6,1157.64 1572.1,1158.86 1574.1,1159.68 1576.85,1160.23 1580.6,1160.58 1586.35,1160.81 1622.6,1161.01 1650.6,1160.8 1653.1,1160.43 1653.85,1160.07 1654.35,1159.57 1655.1,1157.63 1655.85,1153.52 1656.1,1153.92 1656.6,1156.6 1657.1,1157.75 1657.35,1157.71 1657.6,1157.27 1658.35,1153.7 1658.6,1153.61 1659.6,1158.65 1660.35,1159.85 1661.6,1160.43 1663.85,1160.67 1667.6,1160.64 1670.35,1160.4 1671.85,1159.98 1672.6,1159.5 1673.35,1158.47 1674.6,1154.22 1674.85,1153.85 1675.85,1155.69 1676.1,1155.7 1676.85,1154.63 1677.1,1154.76 1678.35,1158.41 1678.85,1159.13 1679.6,1159.68 1681.85,1160.13 1686.1,1159.96 1688.35,1159.6 1689.85,1159.15 1691.1,1158.43 1691.85,1157.53 1692.6,1155.49 1693.35,1151.42 1693.6,1150.83 1694.1,1151.41 1694.35,1151.24 1695.35,1145.12 1695.6,1145.45 1696.1,1148.37 1696.35,1148.96 1696.6,1148.65 1697.1,1146.86 1697.35,1147.1 1698.1,1150.05 1698.35,1149.91 1698.85,1148.46 1699.1,1148.62 1699.85,1152.44 1700.35,1153.58 1700.6,1153.63 1700.85,1153.35 1701.1,1152.7 1701.85,1148.98 1702.1,1148.91 1703.1,1154.04 1703.6,1154.94 1704.1,1154.9 1704.6,1153.86 1705.6,1149.81 1706.85,1154.39 1707.1,1154.49 1707.35,1154.18 1707.85,1153 1708.1,1153.11 1708.85,1155.97 1709.35,1156.94 1709.85,1157.04 1710.85,1155.37 1711.1,1155.42 1712.1,1158.1 1713.1,1159.3 1715.1,1160.02 1718.85,1160.45 1728.85,1160.82 1747.35,1160.99 1827.6,1160.92 1830.6,1160.67 1832.1,1160.17 1833.1,1159.04 1834.1,1156.79 1834.35,1156.8 1835.35,1158.74 1836.1,1159.2 1836.85,1158.68 1837.85,1156.63 1838.1,1156.59 1839.1,1158.64 1839.6,1159.17 1840.1,1159.28 1840.85,1158.62 1841.85,1155.85 1842.1,1155.81 1843.1,1158.83 1843.85,1159.92 1845.1,1160.52 1847.1,1160.78 1854.35,1160.79 1858.6,1160.28 1859.6,1159.92 1860.6,1159.28 1861.35,1158.49 1862.85,1156.3 1863.35,1156.06 1863.85,1156.41 1865.1,1158.3 1866.1,1159.37 1867.35,1160.08 1869.35,1160.57 1873.1,1160.86 1879.6,1160.98 1891.1,1160.97 1896.6,1160.77 1898.85,1160.4 1900.1,1159.81 1901.1,1158.72 1902.6,1156.08 1903.1,1156.39 1904.1,1158.38 1904.85,1159.42 1905.6,1160 1906.6,1160.41 1910.85,1160.87 1919.35,1160.82 1921.6,1160.52 1922.85,1159.93 1923.6,1158.9 1924.1,1157.24 1924.6,1153.02 1925.35,1136.24 1926.1,1151.5 1926.6,1156.7 1927.35,1159.2 1927.85,1159.84 1928.85,1160.42 1930.6,1160.76 1933.35,1160.9 1941.6,1160.73 1943.85,1160.14 1945.6,1158.58 1946.1,1158.4 1947.6,1159.61 1948.6,1160 1950.1,1159.77 1951.6,1158.51 1952.1,1158.37 1953.6,1159.71 1954.85,1160.31 1957.1,1160.46 1958.6,1159.98 1959.1,1159.5 1959.6,1158.53 1960.1,1156.21 1961.1,1140.49 1962.1,1156.25 1962.6,1158.59 1963.1,1159.58 1963.6,1160.08 1965.35,1160.7 1968.6,1160.95 1992.85,1161.08" fill="none" stroke="#3a9a96" stroke-width="1.2" stroke-linejoin="round" stroke-linecap="round"/>
<line x1="1468.1" y1="1183.2" x2="1992.9" y2="1183.2" stroke="#4f7cc6" stroke-width="1.8"/>
<line x1="1468.1" y1="1443.2" x2="1992.9" y2="1443.2" stroke="#4f7cc6" stroke-width="1.8"/>
<polyline points="1468.1,1423 1472.65,1420.69 1473.76,1420.28 1474.77,1420.26 1476.59,1420.99 1477.35,1420.88 1478.63,1419.78 1480.87,1418.14 1482.2,1417.5 1482.8,1417.5 1483.42,1417.97 1483.93,1418.87 1484.91,1421.22 1485.52,1422.28 1486.3,1423 1487.51,1423.5 1489,1423.87 1490.62,1424.05 1492.23,1423.99 1493.67,1423.66 1494.8,1423 1495.82,1421.2 1496.32,1418.45 1496.47,1415.12 1496.39,1408.05 1496.5,1405 1497.37,1393.41 1497.6,1392.8 1497.78,1393.18 1498.41,1396.66 1498.8,1398 1499.04,1397.05 1499.79,1386.24 1500,1385.3 1500.24,1385.95 1500.75,1390.09 1501.69,1400.27 1502.13,1407.62 1502.36,1409.23 1502.7,1409.9 1502.89,1409.83 1504.74,1406.76 1505.1,1406.5 1505.31,1406.7 1506.11,1408.83 1506.3,1409 1506.52,1408.67 1507.31,1405.1 1507.5,1404.8 1507.77,1405.3 1508.02,1406.59 1509.16,1415.16 1509.33,1417.46 1509.49,1418.51 1509.79,1419.44 1510.3,1420.2 1511.15,1420.88 1512.29,1421.5 1513.58,1421.98 1514.89,1422.25 1516.11,1422.25 1517.1,1421.9 1518.24,1420.3 1519,1417.55 1519.49,1414.06 1520.5,1403.1 1522.17,1390.17 1523.5,1382.03 1523.75,1381.14 1524,1380.8 1524.25,1381.14 1524.51,1382.03 1525.5,1388 1526.6,1397.75 1527.4,1403.1 1529.5,1413.37 1530.38,1416.73 1531.38,1419.66 1532.5,1421.9 1533.17,1422.8 1533.86,1423.55 1535.36,1424.67 1537.93,1425.88 1540.04,1426.49 1542.02,1426.63 1542.8,1426.4 1543.35,1425.97 1543.79,1425.35 1545,1422 1545.54,1419.97 1546.3,1415.1 1547.36,1405.74 1548.3,1395 1549.25,1377.83 1549.47,1374.98 1549.7,1373.9 1549.93,1375.05 1550.15,1378.05 1550.88,1391.37 1551.2,1395 1552.07,1402.39 1552.74,1405.94 1553.1,1406.5 1553.4,1406.19 1553.72,1405.33 1555.28,1398.66 1556.02,1394.15 1556.26,1393.17 1556.5,1392.8 1556.74,1393.17 1556.98,1394.15 1557.72,1398.66 1559.28,1405.32 1559.6,1406.18 1559.9,1406.5 1560.2,1406.06 1560.49,1404.92 1562.35,1392.95 1562.7,1389.4 1563.12,1380.56 1563.35,1368.53 1563.77,1258.4 1564.1,1000 1564.4,896" fill="none" stroke="#a35257" stroke-width="1.2" stroke-linejoin="round" stroke-linecap="butt"/>
<polyline points="1566.5,896 1567.63,1262.54 1567.74,1280.83 1568.01,1296.04 1568.5,1307.1 1568.71,1309.61 1569.46,1315.02 1570.21,1319.1 1571.11,1323.02 1571.56,1326.41 1573.47,1352.54 1574.74,1366.47 1575.5,1372 1576.42,1376.76 1577.51,1381.35 1580.9,1393.18 1581.74,1395.52 1582.75,1397.69 1584,1399.6 1585.39,1401.1 1586.98,1402.42 1590.53,1404.65 1595.93,1407.27 1599.46,1408.5 1609.45,1411.08 1616.23,1412.42 1621.8,1413.06 1623.95,1413.08 1625.93,1412.87 1628.58,1412.23 1631.58,1410.9 1633.44,1409.57 1634.63,1408.22 1635.21,1407.34 1636.24,1405.35 1637.1,1403.1 1637.53,1401.23 1638.53,1392.71 1638.8,1392.1 1639.06,1392.49 1639.31,1393.54 1640.15,1398.48 1641.39,1403.56 1642.43,1407.18 1643.03,1408.43 1643.7,1409 1644.25,1408.94 1644.87,1408.56 1646.16,1407.17 1647.3,1405.4 1648.04,1403.8 1648.66,1401.92 1649.18,1399.79 1650.4,1392 1650.91,1385.07 1651.17,1375.82 1651.4,1350.08 1651.6,1347.5 1651.78,1348.53 1652.61,1360.47 1652.8,1361.5 1653.2,1354.99 1653.52,1338.75 1654.31,1280.3 1654.6,1273.8 1654.84,1277.55 1655.83,1320.65 1656.1,1324.4 1656.38,1320.65 1657.58,1277.55 1657.9,1273.8 1658.18,1278.18 1658.91,1317.78 1659.38,1328.89 1660.1,1333.5 1661,1332.3 1661.48,1334.11 1661.77,1338.52 1662.23,1357.99 1662.5,1363.4 1663.06,1370.39 1663.69,1376.85 1664.5,1382 1665.36,1385.42 1665.95,1386.9 1666.2,1387.1 1666.58,1386.34 1666.89,1384.34 1667.8,1370 1668.16,1360.27 1668.87,1306.49 1669.2,1294.6 1670.47,1267.89 1671.36,1255.07 1671.7,1253.1 1671.91,1255.45 1672.44,1282.45 1672.6,1284.8 1673.35,1270.17 1673.5,1269 1673.76,1271.7 1675,1320 1675.11,1327.16 1675.04,1342.46 1675.17,1349.12 1675.6,1354.11 1676.5,1356.7 1676.8,1356.85 1677.13,1356.84 1678.14,1356.6 1678.4,1356.7 1678.72,1357.4 1679.2,1362.8 1679.37,1362.26 1680.17,1356.04 1680.4,1355.5 1680.75,1356.67 1681.92,1367.36 1682.48,1370.46 1683.2,1371.9 1683.58,1371.94 1684.47,1371.5 1685.34,1370.58 1685.7,1370 1686.33,1367.93 1686.67,1364.95 1687,1350 1687.91,1333.86 1688.43,1320.48 1689.48,1282.9 1689.84,1274.17 1690.2,1270.8 1690.4,1272.06 1691,1283.47 1691.2,1286.63 1691.4,1287.9 1691.71,1284.92 1692.93,1250.68 1693.2,1247.7 1693.43,1250.36 1694.2,1280.94 1694.4,1283.6 1694.61,1281.16 1695.51,1253.14 1695.7,1250.7 1695.84,1252.86 1696.25,1277.73 1696.4,1279.9 1697.2,1267.8 1697.44,1272.17 1698.12,1322.43 1698.3,1326.8 1698.48,1322.93 1699.21,1278.37 1699.4,1274.5 1699.55,1276.98 1700.2,1305.52 1700.4,1308 1700.65,1304.93 1701.83,1269.57 1702.1,1266.5 1702.31,1268.33 1702.49,1273.08 1703.3,1299.4 1704.17,1311.52 1704.39,1313.33 1704.6,1314 1704.84,1312.46 1705.72,1294.83 1705.9,1293.3 1706.06,1295.24 1706.52,1317.56 1706.7,1319.5 1706.91,1318.01 1707.97,1300.89 1708.2,1299.4 1708.42,1300.85 1708.59,1304.63 1709.12,1321.52 1709.4,1326.2 1711.3,1342.1 1712.41,1356.7 1713.1,1364 1714.59,1375.91 1715.65,1381.96 1716.1,1382.9 1716.47,1381.81 1716.77,1379.01 1717.63,1366.67 1718,1363.4 1719.37,1355.76 1719.7,1354.61 1720,1354.2 1720.37,1355.5 1720.65,1358.83 1721.31,1373.8 1722.13,1383.39 1723.04,1390.81 1724.89,1401.95 1725.9,1405.4 1726.66,1407.05 1727.5,1408.41 1727.91,1408.83 1728.3,1409 1728.57,1408.88 1729.36,1407.65 1729.63,1407.31 1729.9,1407.2 1730.3,1407.52 1730.69,1408.26 1732.01,1411.36 1732.6,1412.1 1733.29,1412.58 1734.95,1413.25 1738.65,1414.25 1741.06,1414.64 1743.58,1414.86 1748.5,1415.1 1758.66,1415.32 1777.5,1415.27 1789.27,1414.73 1797.67,1413.88 1801.35,1413.23 1803.79,1412.64 1806.7,1411.6 1808.36,1410.65 1809,1410 1809.32,1409.39 1810.2,1406.34 1810.5,1406 1810.71,1405.98 1811.66,1406.49 1812.25,1406.32 1812.93,1405.54 1816.06,1401.28 1817,1399.6 1817.53,1398.29 1818.4,1395.3 1819.5,1390 1820.5,1383.51 1823.71,1355.87 1825.19,1345.14 1825.9,1340.6 1826.26,1339.14 1826.6,1338.6 1826.93,1339.15 1827.57,1342.7 1829.24,1355.88 1831.93,1379.81 1832.89,1386.91 1834.57,1394.49 1835.77,1398.53 1836.35,1399.81 1836.9,1400.3 1837.27,1400.06 1838,1398.42 1839.74,1392.14 1842.5,1378 1844.5,1372.2 1846.15,1366.85 1846.94,1365.08 1847.63,1363.98 1848.15,1363.54 1849.5,1363 1850.46,1361.9 1851.3,1360.2 1851.81,1358.39 1852.59,1353.38 1853.79,1342.49 1856.16,1318.34 1856.48,1316.43 1856.8,1315.7 1857.08,1316.14 1857.66,1319.04 1858.79,1327.29 1860.95,1350.31 1861.94,1356.87 1866.7,1375.6 1868.91,1387.76 1871.33,1395.9 1872.03,1397.62 1872.78,1398.91 1873.6,1399.6 1874.14,1399.69 1874.72,1399.59 1875.91,1398.96 1877,1398 1877.72,1397.05 1878.93,1394.47 1880.4,1389.4 1881.04,1386.04 1881.52,1382.09 1882.59,1369.02 1884.15,1353.36 1884.57,1349.93 1885.04,1347.49 1885.6,1346.5 1885.9,1346.62 1886.57,1347.64 1887.5,1350 1887.83,1351.45 1888.63,1358.74 1889,1360 1889.52,1360.82 1892.5,1364 1893.72,1365.72 1894.95,1366.81 1895.6,1367.12 1895.9,1367.1 1896.31,1366.73 1896.66,1365.99 1898,1362 1899.17,1359.61 1900.03,1358.34 1900.5,1358 1900.85,1357.91 1901.6,1357.97 1902.7,1358.5 1903.54,1359.41 1906.34,1364.58 1908.33,1368.91 1909.6,1372.2 1910.46,1375.27 1912,1382 1913.8,1390.76 1914.25,1392.23 1914.7,1392.8 1915.01,1392.61 1915.65,1391.22 1916.5,1388 1916.89,1385.66 1917.19,1382.81 1918,1370 1919.03,1358.11 1919.48,1348.05 1919.87,1330.37 1920.48,1287.23 1921.55,1193.28 1921.9,1178.6 1922.26,1193.28 1922.73,1231.99 1923.48,1330.59 1923.73,1348.26 1924.17,1357.81 1925.04,1366.15 1925.73,1370.66 1929.82,1392.4 1930.1,1392.8 1930.32,1392.56 1931.5,1388 1932.94,1384.49 1933.6,1382.5 1934.15,1379.22 1934.73,1373.71 1935.91,1366.78 1936.61,1364.14 1937,1363.7 1937.3,1363.88 1937.62,1364.42 1940.99,1373.33 1942.1,1375.6 1942.88,1376.5 1944.5,1378 1946.91,1382.3 1947.3,1382.5 1947.77,1381.86 1948.12,1380.32 1948.6,1375.51 1949.34,1364.96 1950.26,1339.88 1951.01,1325.99 1951.18,1324.7 1951.4,1324.2 1951.56,1324.39 1953.35,1330.96 1953.5,1331.1 1953.85,1329.49 1954.06,1325.34 1954.5,1300 1955.44,1272.35 1955.68,1267.75 1955.9,1266 1956.1,1267.73 1956.29,1272.29 1957,1300 1959.01,1358.83 1959.64,1374.1 1959.77,1382.35 1959.95,1386 1960.33,1389 1961,1391.1 1961.35,1391.62 1962.17,1392.29 1965.71,1394.12 1966.1,1394.5 1966.63,1395.37 1967.45,1397.75 1968.96,1403.81 1970.28,1409.87 1971.3,1413.4 1972.09,1415.36 1972.94,1417.06 1973.44,1417.81 1974.58,1419.08 1975.86,1420.09 1977.31,1420.88 1979.12,1421.49 1980.22,1421.69 1986.28,1422.04 1992.9,1421.9" fill="none" stroke="#a35257" stroke-width="1.2" stroke-linejoin="round" stroke-linecap="butt"/>
<line x1="1564.9" y1="895.5" x2="1564.9" y2="899.5" stroke="#b06060" stroke-width="0.8"/>
<line x1="1566.3" y1="895.5" x2="1566.3" y2="899.5" stroke="#b06060" stroke-width="0.8"/>
<line x1="1681.5" y1="896.3" x2="1686.5" y2="896.3" stroke="#99aa99" stroke-width="0.8"/>
<line x1="1468.2" y1="1476.4" x2="1992.9" y2="1476.4" stroke="#231815" stroke-width="1.3"/>
<line x1="1991.8" y1="1476.4" x2="1991.8" y2="1480.6" stroke="#231815" stroke-width="1.1"/>
<line x1="1966.4" y1="1476.4" x2="1966.4" y2="1478.4" stroke="#231815" stroke-width="1.1"/>
<line x1="1941.01" y1="1476.4" x2="1941.01" y2="1480.6" stroke="#231815" stroke-width="1.1"/>
<line x1="1915.62" y1="1476.4" x2="1915.62" y2="1478.4" stroke="#231815" stroke-width="1.1"/>
<line x1="1890.22" y1="1476.4" x2="1890.22" y2="1480.6" stroke="#231815" stroke-width="1.1"/>
<line x1="1864.83" y1="1476.4" x2="1864.83" y2="1478.4" stroke="#231815" stroke-width="1.1"/>
<line x1="1839.43" y1="1476.4" x2="1839.43" y2="1480.6" stroke="#231815" stroke-width="1.1"/>
<line x1="1814.03" y1="1476.4" x2="1814.03" y2="1478.4" stroke="#231815" stroke-width="1.1"/>
<line x1="1788.64" y1="1476.4" x2="1788.64" y2="1480.6" stroke="#231815" stroke-width="1.1"/>
<line x1="1763.24" y1="1476.4" x2="1763.24" y2="1478.4" stroke="#231815" stroke-width="1.1"/>
<line x1="1737.85" y1="1476.4" x2="1737.85" y2="1480.6" stroke="#231815" stroke-width="1.1"/>
<line x1="1712.45" y1="1476.4" x2="1712.45" y2="1478.4" stroke="#231815" stroke-width="1.1"/>
<line x1="1687.06" y1="1476.4" x2="1687.06" y2="1480.6" stroke="#231815" stroke-width="1.1"/>
<line x1="1661.66" y1="1476.4" x2="1661.66" y2="1478.4" stroke="#231815" stroke-width="1.1"/>
<line x1="1636.27" y1="1476.4" x2="1636.27" y2="1480.6" stroke="#231815" stroke-width="1.1"/>
<line x1="1610.88" y1="1476.4" x2="1610.88" y2="1478.4" stroke="#231815" stroke-width="1.1"/>
<line x1="1585.48" y1="1476.4" x2="1585.48" y2="1480.6" stroke="#231815" stroke-width="1.1"/>
<line x1="1560.09" y1="1476.4" x2="1560.09" y2="1478.4" stroke="#231815" stroke-width="1.1"/>
<line x1="1534.69" y1="1476.4" x2="1534.69" y2="1480.6" stroke="#231815" stroke-width="1.1"/>
<line x1="1509.3" y1="1476.4" x2="1509.3" y2="1478.4" stroke="#231815" stroke-width="1.1"/>
<line x1="1483.9" y1="1476.4" x2="1483.9" y2="1480.6" stroke="#231815" stroke-width="1.1"/>
<text x="1991.8" y="1502.4" font-size="24.3" text-anchor="middle" fill="#231815">0.5</text>
<text x="1941.01" y="1502.4" font-size="24.3" text-anchor="middle" fill="#231815">1.0</text>
<text x="1890.22" y="1502.4" font-size="24.3" text-anchor="middle" fill="#231815">1.5</text>
<text x="1839.43" y="1502.4" font-size="24.3" text-anchor="middle" fill="#231815">2.0</text>
<text x="1788.64" y="1502.4" font-size="24.3" text-anchor="middle" fill="#231815">2.5</text>
<text x="1737.85" y="1502.4" font-size="24.3" text-anchor="middle" fill="#231815">3.0</text>
<text x="1687.06" y="1502.4" font-size="24.3" text-anchor="middle" fill="#231815">3.5</text>
<text x="1636.27" y="1502.4" font-size="24.3" text-anchor="middle" fill="#231815">4.0</text>
<text x="1585.48" y="1502.4" font-size="24.3" text-anchor="middle" fill="#231815">4.5</text>
<text x="1534.69" y="1502.4" font-size="24.3" text-anchor="middle" fill="#231815">5.0</text>
<text x="1483.9" y="1502.4" font-size="24.3" text-anchor="middle" fill="#231815">5.5</text>
<text x="1733.47" y="1543.6" font-size="31.2" fill="#231815">ppm</text>
<text x="1866.2" y="767.9" font-size="30.4" fill="#000" xml:space="preserve">Steviosides  standard</text>
<text x="1872.17" y="998.3" font-size="30.4" fill="#000">Purified Steviosides</text>
<text x="1873.23" y="1034.2" font-size="30.4" fill="#000">after HPLC Separation</text>
<text x="1934.48" y="1240.3" font-size="30.4" fill="#000">Crude Steviosides</text>
</svg>
</body></html>
